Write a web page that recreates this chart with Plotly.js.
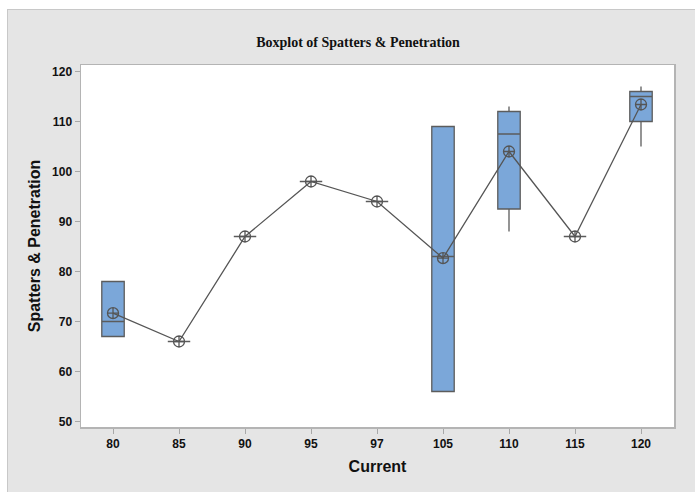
<!DOCTYPE html>
<html>
<head>
<meta charset="utf-8">
<script src="https://cdn.plot.ly/plotly-3.0.1.min.js"></script>
<style>
  html, body { margin: 0; padding: 0; background: #ffffff; width: 695px; height: 492px; overflow: hidden; }
  #chart { position: absolute; left: 7px; top: 9px; width: 687px; height: 482px;
           border-left: 1px solid #c8c8c8; border-top: 1px solid #c8c8c8; }
</style>
</head>
<body>
<div id="chart"></div>
<script>
// Data (Minitab-style box statistics)
const currents    = ['80', '85', '90', '95', '97', '105', '110', '115', '120'];
const q1Values    = [67, 66, 87, 98, 94, 56, 92.5, 87, 110];
const medians     = [70, 66, 87, 98, 94, 83, 107.5, 87, 115];
const q3Values    = [78, 66, 87, 98, 94, 109, 112, 87, 116];
const lowWhisker  = [67, 66, 87, 98, 94, 56, 88, 87, 105];
const highWhisker = [78, 66, 87, 98, 94, 109, 113, 87, 117];
const means       = [71.67, 66, 87, 98, 94, 82.67, 104, 87, 113.4];
const yTicks      = [50, 60, 70, 80, 90, 100, 110, 120];

const boxTrace = {
  type: 'box',
  x: currents,
  q1: q1Values,
  median: medians,
  q3: q3Values,
  lowerfence: lowWhisker,
  upperfence: highWhisker,
  width: 0.34,
  whiskerwidth: 0,
  fillcolor: '#7ba7d9',
  line: { color: '#5c5c5c', width: 1.3 },
  hoverinfo: 'skip',
  showlegend: false
};

const meanTrace = {
  type: 'scatter',
  mode: 'lines+markers',
  x: currents,
  y: means,
  line: { color: '#555555', width: 1.3 },
  marker: { symbol: 'circle-cross-open', size: 11, color: '#555555', line: { width: 1.3 } },
  hoverinfo: 'skip',
  showlegend: false
};

const tickFont = { family: 'Liberation Sans, Arial, sans-serif', size: 12, color: '#111111', weight: 'bold' };

const layout = {
  width: 687,
  height: 482,
  margin: { l: 73, r: 21, t: 55, b: 65 },
  paper_bgcolor: '#e5e5e5',
  plot_bgcolor: '#ffffff',
  showlegend: false,
  title: {
    text: '<b>Boxplot of Spatters &amp; Penetration</b>',
    font: { family: 'Liberation Serif, Times New Roman, serif', size: 14, color: '#111111' },
    xref: 'container', x: 0.5095, xanchor: 'center',
    yref: 'container', y: 0.934, yanchor: 'middle'
  },
  xaxis: {
    type: 'category',
    range: [-0.485, 8.5],
    showgrid: false,
    zeroline: false,
    showline: true, mirror: true, linecolor: '#b4b4b4', linewidth: 1.5,
    ticks: 'outside', ticklen: 5, tickcolor: '#a8a8a8', tickwidth: 1,
    tickfont: tickFont,
    title: { text: '<b>Current</b>', font: { family: 'Liberation Sans, Arial, sans-serif', size: 16, color: '#111111' }, standoff: 11 }
  },
  yaxis: {
    range: [48.9, 121.3],
    tickvals: yTicks,
    ticktext: yTicks.map(String),
    showgrid: false,
    zeroline: false,
    showline: true, mirror: true, linecolor: '#b4b4b4', linewidth: 1.5,
    ticks: 'outside', ticklen: 5, tickcolor: '#a8a8a8', tickwidth: 1,
    tickfont: tickFont,
    title: { text: '<b>Spatters &amp; Penetration</b>', font: { family: 'Liberation Sans, Arial, sans-serif', size: 16, color: '#111111' }, standoff: 7 }
  }
};

Plotly.newPlot('chart', [boxTrace, meanTrace], layout, { staticPlot: true, displayModeBar: false });
</script>
</body>
</html>
